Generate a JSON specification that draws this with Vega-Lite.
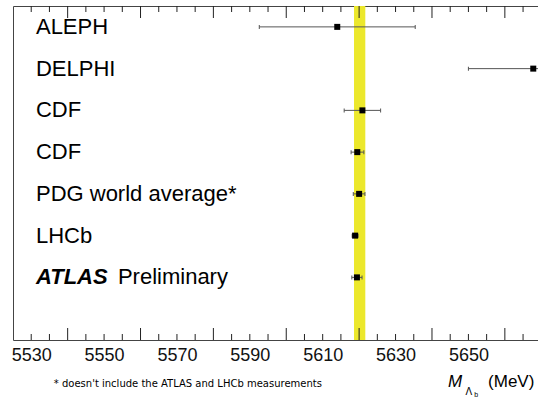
{
  "$schema": "https://vega.github.io/schema/vega-lite/v6.json",
  "width": 525,
  "height": 334,
  "autosize": {"type": "none"},
  "padding": {"left": 13, "top": 6, "right": 0, "bottom": 58},
  "background": "white",
  "config": {
    "view": {"stroke": "#444", "strokeWidth": 1},
    "font": "Liberation Sans",
    "axisX": {"orient": "bottom", "domain": false, "ticks": false, "tickSize": 0, "labels": true, "labelFontSize": 18, "labelPadding": 6, "labelColor": "#111", "labelFont": "Liberation Sans", "format": "d", "grid": false, "values": [5540, 5560, 5580, 5600, 5620, 5640, 5660]}
  },
  "datasets": {
    "meas": [
      {"label": "ALEPH", "m": 5614.0, "lo": 5592.6, "hi": 5635.4, "row": 7.5},
      {"label": "DELPHI", "m": 5667.8, "lo": 5650.0, "hi": 5685.9, "row": 6.5},
      {"label": "CDF", "m": 5620.9, "lo": 5615.9, "hi": 5625.9, "row": 5.5},
      {"label": "CDF", "m": 5619.5, "lo": 5617.8, "hi": 5621.3, "row": 4.5},
      {"label": "PDG world average*", "m": 5620.0, "lo": 5618.4, "hi": 5621.6, "row": 3.5},
      {"label": "LHCb", "m": 5618.9, "lo": 5618.1, "hi": 5619.7, "row": 2.5},
      {"label": "ATLAS", "m": 5619.4, "lo": 5618.0, "hi": 5620.8, "row": 1.5}
    ],
    "band": [{"lo": 5618.6, "hi": 5621.7}],
    "majorT": [{"v": 5540}, {"v": 5560}, {"v": 5580}, {"v": 5600}, {"v": 5620}, {"v": 5640}, {"v": 5660}],
    "minorT": [
      {"v": 5530}, {"v": 5535}, {"v": 5545}, {"v": 5550}, {"v": 5555}, {"v": 5565}, {"v": 5570},
      {"v": 5575}, {"v": 5585}, {"v": 5590}, {"v": 5595}, {"v": 5605}, {"v": 5610}, {"v": 5615},
      {"v": 5625}, {"v": 5630}, {"v": 5635}, {"v": 5645}, {"v": 5650}, {"v": 5655}, {"v": 5665}
    ]
  },
  "layer": [
    {
      "data": {"name": "band"},
      "mark": {"type": "rect", "color": "#ece82c"},
      "encoding": {
        "x": {"field": "lo", "type": "quantitative", "title": null, "scale": {"domain": [5525, 5669.1], "nice": false, "zero": false}},
        "x2": {"field": "hi"}
      }
    },
    {
      "data": {"name": "majorT"},
      "mark": {"type": "tick", "orient": "vertical", "size": 12, "thickness": 1, "color": "#222", "opacity": 1},
      "encoding": {
        "x": {"field": "v", "type": "quantitative", "title": null},
        "y": {"datum": 0.1437, "type": "quantitative", "scale": {"domain": [0, 8], "nice": false, "zero": false}, "axis": null}
      }
    },
    {
      "data": {"name": "minorT"},
      "mark": {"type": "tick", "orient": "vertical", "size": 6, "thickness": 1, "color": "#222", "opacity": 1},
      "encoding": {
        "x": {"field": "v", "type": "quantitative", "title": null},
        "y": {"datum": 0.0719, "type": "quantitative", "axis": null}
      }
    },
    {
      "data": {"name": "majorT"},
      "mark": {"type": "tick", "orient": "vertical", "size": 12, "thickness": 1, "color": "#222", "opacity": 1},
      "encoding": {
        "x": {"field": "v", "type": "quantitative", "title": null},
        "y": {"datum": 7.8563, "type": "quantitative", "axis": null}
      }
    },
    {
      "data": {"name": "minorT"},
      "mark": {"type": "tick", "orient": "vertical", "size": 6, "thickness": 1, "color": "#222", "opacity": 1},
      "encoding": {
        "x": {"field": "v", "type": "quantitative", "title": null},
        "y": {"datum": 7.9281, "type": "quantitative", "axis": null}
      }
    },
    {
      "data": {"name": "meas"},
      "mark": {"type": "rule", "color": "#555", "strokeWidth": 1},
      "encoding": {
        "x": {"field": "lo", "type": "quantitative", "title": null},
        "x2": {"field": "hi"},
        "y": {"field": "row", "type": "quantitative", "axis": null}
      }
    },
    {
      "data": {"name": "meas"},
      "mark": {"type": "tick", "orient": "vertical", "size": 4, "thickness": 1, "color": "#555", "opacity": 1},
      "encoding": {
        "x": {"field": "lo", "type": "quantitative", "title": null},
        "y": {"field": "row", "type": "quantitative", "axis": null}
      }
    },
    {
      "data": {"name": "meas"},
      "mark": {"type": "tick", "orient": "vertical", "size": 4, "thickness": 1, "color": "#555", "opacity": 1},
      "encoding": {
        "x": {"field": "hi", "type": "quantitative", "title": null},
        "y": {"field": "row", "type": "quantitative", "axis": null}
      }
    },
    {
      "data": {"name": "meas"},
      "mark": {"type": "square", "size": 36, "color": "black", "opacity": 1},
      "encoding": {
        "x": {"field": "m", "type": "quantitative", "title": null},
        "y": {"field": "row", "type": "quantitative", "axis": null}
      }
    },
    {
      "data": {"name": "meas"},
      "transform": [{"filter": "datum.label != 'ATLAS'"}],
      "mark": {"type": "text", "align": "left", "baseline": "middle", "fontSize": 22, "color": "black", "font": "Liberation Sans"},
      "encoding": {
        "x": {"datum": 5531.3, "type": "quantitative", "title": null},
        "y": {"field": "row", "type": "quantitative", "axis": null},
        "text": {"field": "label"}
      }
    },
    {
      "data": {"name": "meas"},
      "transform": [{"filter": "datum.label == 'ATLAS'"}],
      "mark": {"type": "text", "align": "left", "baseline": "middle", "fontSize": 22, "fontWeight": "bold", "fontStyle": "italic", "color": "black", "font": "Liberation Sans"},
      "encoding": {
        "x": {"datum": 5531.3, "type": "quantitative", "title": null},
        "y": {"field": "row", "type": "quantitative", "axis": null},
        "text": {"field": "label"}
      }
    },
    {
      "data": {"name": "meas"},
      "transform": [{"filter": "datum.label == 'ATLAS'"}],
      "mark": {"type": "text", "align": "left", "baseline": "middle", "fontSize": 22, "color": "black", "font": "Liberation Sans", "text": "Preliminary"},
      "encoding": {
        "x": {"datum": 5553.8, "type": "quantitative", "title": null},
        "y": {"field": "row", "type": "quantitative", "axis": null}
      }
    },
    {
      "data": {"values": [{}]},
      "mark": {"type": "text", "align": "left", "baseline": "alphabetic", "fontSize": 10, "color": "black", "font": "DejaVu Sans", "text": "* doesn't include the ATLAS and LHCb measurements"},
      "encoding": {
        "x": {"datum": 5536.2, "type": "quantitative", "title": null},
        "y": {"datum": -1.126, "type": "quantitative", "axis": null}
      }
    },
    {
      "data": {"values": [{}]},
      "mark": {"type": "text", "align": "left", "baseline": "alphabetic", "fontSize": 17, "fontStyle": "italic", "color": "black", "font": "Liberation Sans", "text": "M"},
      "encoding": {
        "x": {"datum": 5644.4, "type": "quantitative", "title": null},
        "y": {"datum": -1.133, "type": "quantitative", "axis": null}
      }
    },
    {
      "data": {"values": [{}]},
      "mark": {"type": "text", "align": "left", "baseline": "alphabetic", "fontSize": 10, "color": "black", "font": "Liberation Sans", "text": "Λ"},
      "encoding": {
        "x": {"datum": 5649.2, "type": "quantitative", "title": null},
        "y": {"datum": -1.317, "type": "quantitative", "axis": null}
      }
    },
    {
      "data": {"values": [{}]},
      "mark": {"type": "text", "align": "left", "baseline": "alphabetic", "fontSize": 7, "color": "black", "font": "Liberation Sans", "text": "b"},
      "encoding": {
        "x": {"datum": 5651.6, "type": "quantitative", "title": null},
        "y": {"datum": -1.377, "type": "quantitative", "axis": null}
      }
    },
    {
      "data": {"values": [{}]},
      "mark": {"type": "text", "align": "left", "baseline": "alphabetic", "fontSize": 17, "color": "black", "font": "Liberation Sans", "text": "(MeV)"},
      "encoding": {
        "x": {"datum": 5655.4, "type": "quantitative", "title": null},
        "y": {"datum": -1.133, "type": "quantitative", "axis": null}
      }
    }
  ]
}
